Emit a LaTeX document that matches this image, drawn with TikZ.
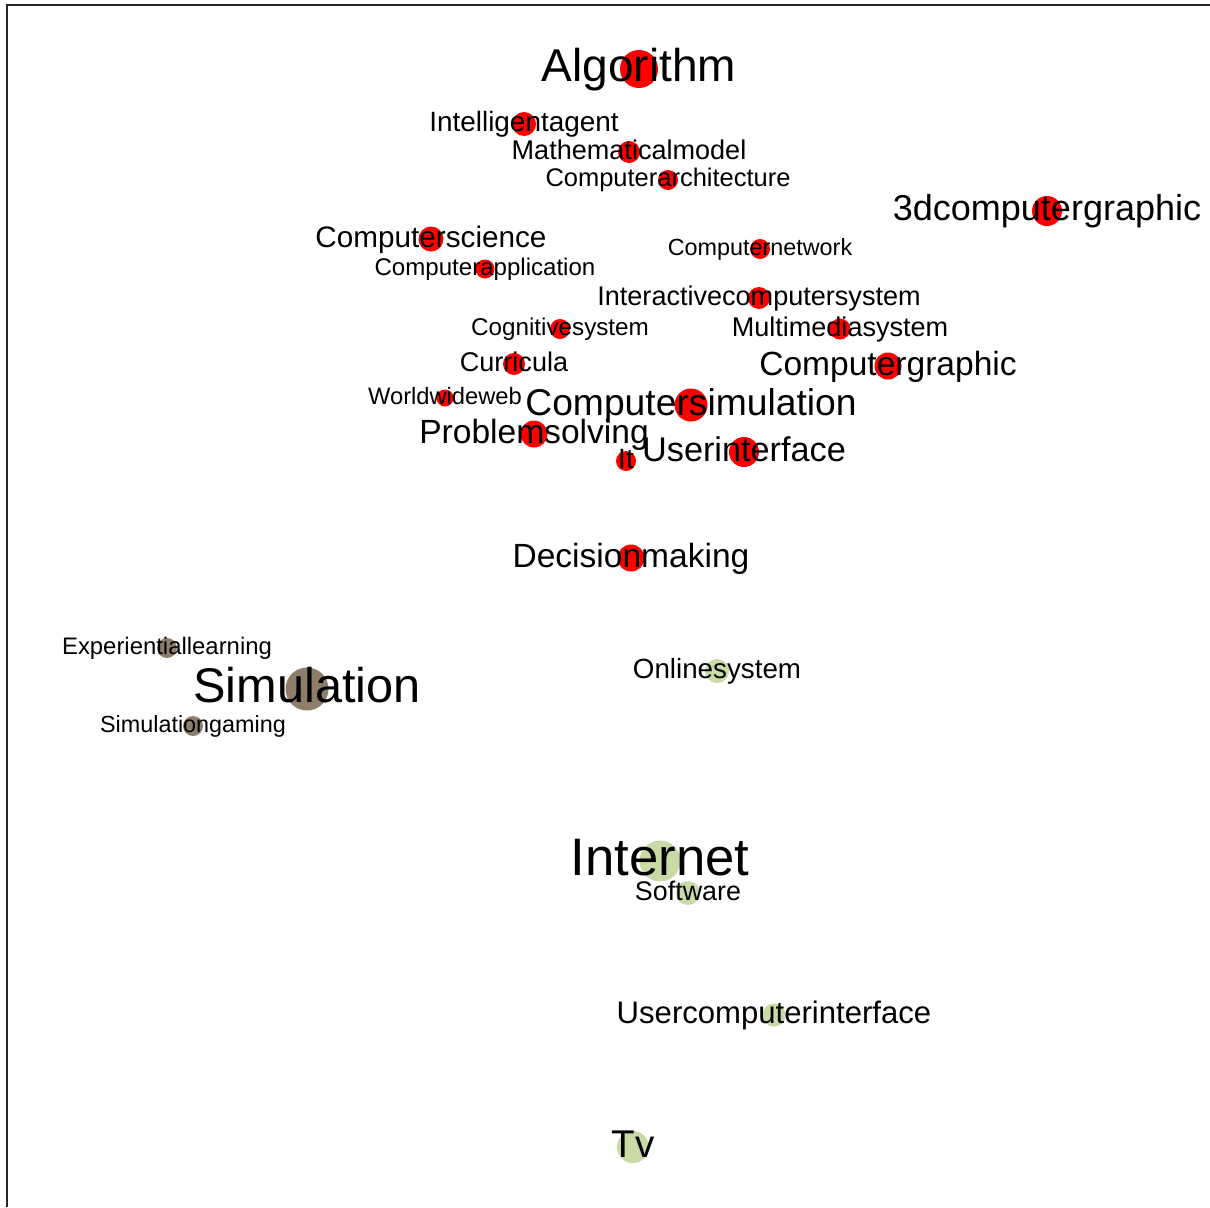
\documentclass[tikz,border=0pt]{standalone}
\usepackage{fontspec}
\setmainfont{Liberation Sans}
\definecolor{termred}{HTML}{FF0000}
\definecolor{termbrown}{HTML}{8E7D6A}
\definecolor{termgreen}{HTML}{C8DAA5}

\begin{document}
\begin{tikzpicture}[x=0.02cm,y=-0.02cm,
  rdot/.style={circle,inner sep=0pt,fill=termred,minimum size=#1*0.02cm},
  bdot/.style={circle,inner sep=0pt,fill=termbrown,minimum size=#1*0.02cm},
  gdot/.style={circle,inner sep=0pt,fill=termgreen,minimum size=#1*0.02cm},
  term/.style={anchor=base,inner sep=0pt,yshift=-0.27*#1pt,font=\fontsize{#1}{#1}\selectfont}]
\useasboundingbox (0,0) rectangle (1210,1207);
\draw[line width=1.2pt,black!85] (7,1207) -- (7,5) -- (1210,5);

% red cluster
\node[rdot=38] (algorithm) at (639,69) {};
\node[rdot=24] (intelligentagent) at (524,124) {};
\node[rdot=22] (mathematicalmodel) at (629,152) {};
\node[rdot=20] (computerarchitecture) at (668,180) {};
\node[rdot=30] (3dcomputergraphic) at (1047,211) {};
\node[rdot=25] (computerscience) at (431,239) {};
\node[rdot=19] (computerapplication) at (485,269) {};
\node[rdot=20] (computernetwork) at (760,249) {};
\node[rdot=22] (interactivecomputersystem) at (759,298) {};
\node[rdot=20] (cognitivesystem) at (560,329) {};
\node[rdot=21] (multimediasystem) at (840,329) {};
\node[rdot=22] (curricula) at (514,364) {};
\node[rdot=27] (computergraphic) at (888,366) {};
\node[rdot=17] (worldwideweb) at (445,398) {};
\node[rdot=33] (computersimulation) at (691,405) {};
\node[rdot=27] (problemsolving) at (534,434) {};
\node[rdot=20] (it) at (626,461) {};
\node[rdot=30] (userinterface) at (744,452) {};
\node[rdot=27] (decisionmaking) at (631,558) {};
% brown cluster
\node[bdot=20] (experientiallearning) at (167,648) {};
\node[bdot=43] (simulation) at (307,689) {};
\node[bdot=20] (simulationgaming) at (193,726) {};
% green cluster
\node[gdot=24] (onlinesystem) at (717,671) {};
\node[gdot=41] (internet) at (660,861) {};
\node[gdot=24] (software) at (688,893) {};
\node[gdot=23] (usercomputerinterface) at (774,1015) {};
\node[gdot=32] (tv) at (633,1147) {};

% labels on top
\node[term=26.2] at (algorithm) {Algorithm};
\node[term=15.9] at (intelligentagent) {Intelligentagent};
\node[term=15.4] at (mathematicalmodel) {Mathematicalmodel};
\node[term=14.5] at (computerarchitecture) {Computerarchitecture};
\node[term=20.5] at (3dcomputergraphic) {3dcomputergraphic};
\node[term=16.9] at (computerscience) {Computerscience};
\node[term=13.7] at (computerapplication) {Computerapplication};
\node[term=13.3] at (computernetwork) {Computernetwork};
\node[term=15.4] at (interactivecomputersystem) {Interactivecomputersystem};
\node[term=13.8] at (cognitivesystem) {Cognitivesystem};
\node[term=15.4] at (multimediasystem) {Multimediasystem};
\node[term=15.4] at (curricula) {Curricula};
\node[term=19.1] at (computergraphic) {Computergraphic};
\node[term=13.5] at (worldwideweb) {Worldwideweb};
\node[term=21.2] at (computersimulation) {Computersimulation};
\node[term=19.1] at (problemsolving) {Problemsolving};
\node[term=15.9] at (it) {It};
\node[term=19.5] at (userinterface) {Userinterface};
\node[term=19.1] at (decisionmaking) {Decisionmaking};
\node[term=13.6] at (experientiallearning) {Experientiallearning};
\node[term=27.7] at (simulation) {Simulation};
\node[term=13.3] at (simulationgaming) {Simulationgaming};
\node[term=15.8] at (onlinesystem) {Onlinesystem};
\node[term=30] at (internet) {Internet};
\node[term=15.3] at (software) {Software};
\node[term=17.7] at (usercomputerinterface) {Usercomputerinterface};
\node[term=22] at (tv) {Tv};
\end{tikzpicture}
\end{document}
